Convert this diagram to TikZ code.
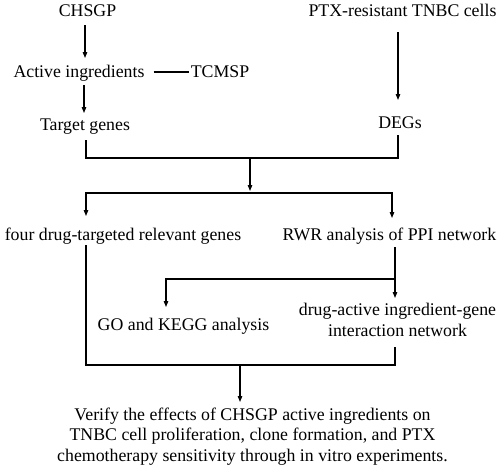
\documentclass[tikz,border=0pt]{standalone}
\usepackage{fontspec}
\setmainfont{Liberation Serif}
\usetikzlibrary{arrows.meta}
\begin{document}
\begin{tikzpicture}[x=1pt,y=-1pt,
  lbl/.style={font=\fontsize{17.8}{20.3}\selectfont, inner sep=0pt, anchor=base, align=center},
  ln/.style={line width=1.2pt, draw=black},
  arr/.style={ln, -{Triangle[length=6pt,width=4.5pt]}}]
\useasboundingbox (0,0) rectangle (500,466);
% nodes (multi-line nodes are anchored at the baseline of their last line)
\node[lbl] (chsgp)  at (87.5,16.5) {CHSGP};
\node[lbl] (active) at (79,77)     {Active ingredients};
\node[lbl] (tcmsp)  at (220,77)    {TCMSP};
\node[lbl] (target) at (85,130)    {Target genes};
\node[lbl] (ptx)    at (402.5,16.5){PTX-resistant TNBC cells};
\node[lbl] (degs)   at (400,128)   {DEGs};
\node[lbl] (four)   at (123,240)   {four drug-targeted relevant genes};
\node[lbl] (rwr)    at (389.5,240) {RWR analysis of PPI network};
\node[lbl] (go)     at (183.5,330) {GO and KEGG analysis};
\node[lbl] (net)    at (397.5,336) {drug-active ingredient-gene\\interaction network};
\node[lbl] (verify) at (252.5,461) {Verify the effects of CHSGP active ingredients on\\TNBC cell proliferation, clone formation, and PTX\\chemotherapy sensitivity through in vitro experiments.};
% junctions
\coordinate (m1) at (250,158);
\coordinate (m2) at (250,193);
\coordinate (j3) at (395,279);
\coordinate (m3) at (240,365);
% connectors
\draw[arr] ([xshift=-2.5pt,yshift=-8.5pt]chsgp.base) -- ([xshift=6pt,yshift=19pt]active.base);
\draw[ln]  ([xshift=9pt,yshift=5pt]active.base east) -- ([xshift=-2pt,yshift=5pt]tcmsp.base west);
\draw[arr] ([xshift=5pt,yshift=-8pt]active.base) -- ([xshift=-1pt,yshift=17pt]target.base);
\draw[arr] ([xshift=-4.5pt,yshift=-15.5pt]ptx.base) -- ([xshift=-2pt,yshift=28pt]degs.base);
\draw[ln]  ([xshift=1pt,yshift=-10pt]target.base) |- (m1) -| ([xshift=-2pt,yshift=-7pt]degs.base);
\draw[arr] (m1) -- ([yshift=2pt]m2);
\draw[arr] (m2) -| ([xshift=-37pt,yshift=24pt]four.base);
\draw[arr] (m2) -| ([xshift=2.5pt,yshift=22pt]rwr.base);
\draw[arr] ([xshift=5.5pt,yshift=-7pt]rwr.base) -- ([xshift=-2.5pt,yshift=38pt]net.base);
\draw[arr] (j3) -| ([xshift=-17.5pt,yshift=23pt]go.base);
\draw[ln]  ([xshift=-37pt,yshift=-5pt]four.base) |- (m3) -| ([xshift=-2.5pt,yshift=-11pt]net.base);
\draw[arr] (m3) -- ([xshift=-12.5pt,yshift=59pt]verify.base);
\end{tikzpicture}
\end{document}
